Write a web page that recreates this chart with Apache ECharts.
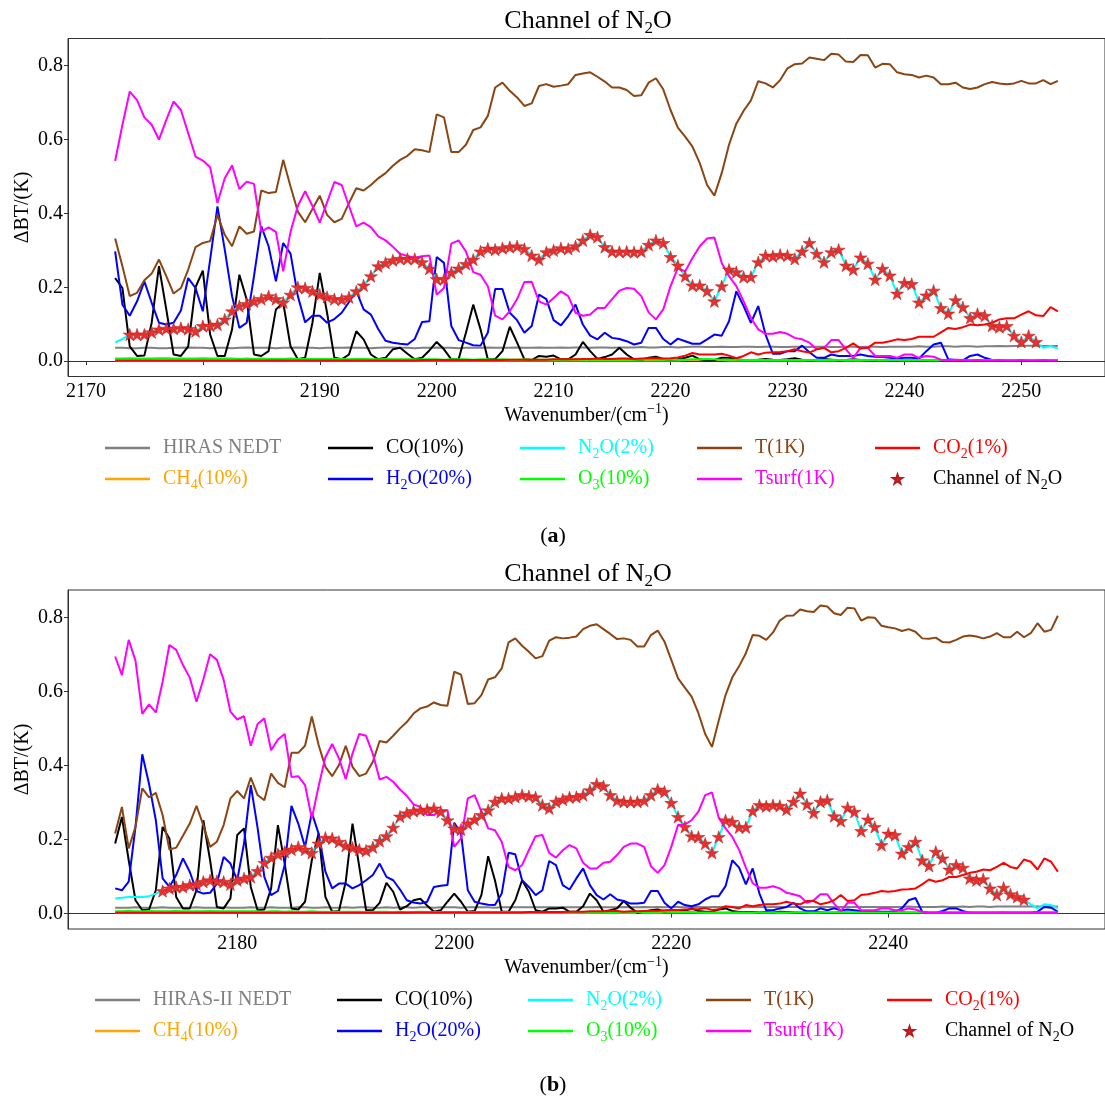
<!DOCTYPE html>
<html>
<head>
<meta charset="utf-8">
<title>Channel of N2O</title>
<script src="https://cdn.jsdelivr.net/npm/echarts@6/dist/echarts.min.js"></script>
<style>
  html, body { margin: 0; padding: 0; background: #fff; }
  #main { width: 1105px; height: 1102px; }
</style>
</head>
<body>
<div id="main"></div>
<script>
// ---- panel (a): HIRAS, 2172.5 .. 2253.125 cm-1, step 0.625 ----
const startA = 2172.5
const stepA = 0.625
const nedtA = [0.036,0.036,0.035,0.035,0.036,0.036,0.035,0.035,0.036,0.036,0.037,0.036,0.036,0.035,0.036,0.036,0.035,0.036,0.037,0.036,
  0.036,0.036,0.035,0.036,0.036,0.037,0.036,0.036,0.035,0.036,0.036,0.036,0.037,0.036,0.036,0.035,0.036,0.037,0.037,0.036,
  0.036,0.035,0.036,0.036,0.037,0.036,0.036,0.035,0.036,0.036,0.036,0.037,0.036,0.036,0.036,0.037,0.036,0.036,0.037,0.036,
  0.036,0.037,0.036,0.037,0.037,0.036,0.037,0.037,0.036,0.037,0.037,0.037,0.038,0.037,0.037,0.038,0.038,0.037,0.038,0.039,
  0.039,0.038,0.038,0.039,0.038,0.038,0.039,0.039,0.038,0.039,0.039,0.038,0.038,0.039,0.039,0.038,0.039,0.039,0.038,0.038,
  0.039,0.039,0.038,0.039,0.039,0.038,0.039,0.039,0.039,0.039,0.040,0.039,0.039,0.040,0.040,0.039,0.040,0.040,0.039,0.040,
  0.040,0.041,0.040,0.041,0.041,0.042,0.042,0.041,0.041,0.041]
const ch4A = [0.002,0.002,0.002,0.002,0.002,0.002,0.002,0.002,0.002,0.002,0.002,0.002,0.002,0.002,0.002,0.002,0.002,0.002,0.002,0.002,
  0.002,0.002,0.002,0.002,0.002,0.002,0.002,0.002,0.002,0.002,0.002,0.002,0.002,0.002,0.002,0.002,0.002,0.002,0.002,0.002,
  0.002,0.002,0.002,0.002,0.002,0.002,0.002,0.002,0.002,0.002,0.002,0.002,0.002,0.002,0.002,0.002,0.002,0.002,0.002,0.002,
  0.002,0.002,0.002,0.002,0.002,0.002,0.002,0.002,0.002,0.002,0.002,0.002,0.002,0.002,0.002,0.002,0.002,0.002,0.003,0.003,
  0.003,0.003,0.003,0.003,0.002,0.002,0.002,0.002,0.002,0.002,0.002,0.002,0.002,0.002,0.002,0.002,0.002,0.002,0.002,0.002,
  0.002,0.002,0.002,0.002,0.002,0.002,0.002,0.002,0.002,0.002,0.002,0.002,0.002,0.002,0.002,0.002,0.002,0.002,0.002,0.002,
  0.002,0.002,0.002,0.002,0.002,0.002,0.002,0.002,0.002,0.002]
const coA = [0.225,0.198,0.040,0.014,0.015,0.104,0.257,0.140,0.018,0.014,0.040,0.200,0.245,0.072,0.014,0.014,0.086,0.234,0.167,0.018,
  0.014,0.027,0.140,0.158,0.040,0.005,0.009,0.104,0.239,0.131,0.009,0.005,0.018,0.081,0.059,0.018,0.005,0.009,0.032,0.036,
  0.020,0.005,0.009,0.029,0.052,0.032,0.005,0.005,0.077,0.153,0.086,0.005,0.005,0.027,0.093,0.050,0.005,0.003,0.014,0.012,
  0.015,0.005,0.005,0.018,0.052,0.027,0.006,0.011,0.018,0.036,0.018,0.005,0.003,0.009,0.012,0.006,0.003,0.005,0.009,0.015,
  0.005,0.002,0.003,0.009,0.009,0.005,0.003,0.003,0.004,0.006,0.004,0.003,0.005,0.008,0.004,0.002,0.003,0.006,0.004,0.002,
  0.003,0.005,0.003,0.002,0.002,0.003,0.002,0.002,0.003,0.002,0.002,0.002,0.003,0.002,0.002,0.002,0.002,0.002,0.002,0.002,
  0.002,0.002,0.002,0.002,0.002,0.002,0.002,0.002,0.002,0.002]
const h2oA = [0.297,0.153,0.123,0.162,0.216,0.158,0.104,0.099,0.104,0.137,0.225,0.198,0.135,0.275,0.419,0.302,0.176,0.090,0.104,0.230,
  0.365,0.311,0.216,0.320,0.291,0.176,0.105,0.123,0.123,0.104,0.114,0.131,0.160,0.190,0.140,0.126,0.087,0.055,0.050,0.047,
  0.045,0.060,0.106,0.108,0.282,0.266,0.095,0.057,0.050,0.043,0.042,0.077,0.195,0.195,0.131,0.111,0.077,0.095,0.180,0.168,
  0.111,0.097,0.122,0.153,0.099,0.069,0.059,0.077,0.063,0.060,0.054,0.045,0.050,0.090,0.090,0.060,0.045,0.061,0.054,0.047,
  0.047,0.059,0.072,0.069,0.108,0.189,0.149,0.104,0.149,0.072,0.020,0.020,0.027,0.027,0.042,0.024,0.009,0.009,0.018,0.014,
  0.014,0.014,0.018,0.014,0.012,0.011,0.009,0.007,0.009,0.009,0.007,0.027,0.045,0.050,0.005,0.003,0.002,0.014,0.018,0.009,
  0.003,0.003,0.003,0.003,0.003,0.003,0.003,0.003,0.003,0.003]
const n2oA = [0.051,0.060,0.072,0.072,0.072,0.078,0.086,0.088,0.088,0.090,0.087,0.081,0.095,0.096,0.099,0.113,0.135,0.149,0.155,0.162,
  0.168,0.176,0.168,0.159,0.180,0.200,0.198,0.189,0.180,0.174,0.168,0.167,0.173,0.189,0.205,0.230,0.257,0.266,0.273,0.277,
  0.277,0.277,0.268,0.250,0.222,0.222,0.240,0.251,0.263,0.275,0.297,0.305,0.302,0.306,0.309,0.311,0.304,0.286,0.275,0.295,
  0.300,0.306,0.304,0.311,0.327,0.342,0.336,0.309,0.297,0.296,0.297,0.295,0.297,0.315,0.327,0.320,0.282,0.259,0.230,0.205,
  0.205,0.190,0.162,0.203,0.248,0.241,0.228,0.228,0.268,0.286,0.284,0.288,0.286,0.277,0.297,0.320,0.291,0.268,0.295,0.302,
  0.259,0.248,0.281,0.264,0.221,0.250,0.232,0.183,0.212,0.209,0.159,0.178,0.191,0.144,0.129,0.165,0.146,0.117,0.128,0.123,
  0.096,0.092,0.095,0.069,0.052,0.069,0.052,0.036,0.041,0.034]
const o3A = [0.007,0.007,0.008,0.007,0.007,0.007,0.008,0.008,0.007,0.007,0.007,0.007,0.008,0.007,0.007,0.007,0.007,0.006,0.007,0.006,
  0.007,0.006,0.006,0.006,0.007,0.006,0.006,0.006,0.006,0.006,0.006,0.006,0.005,0.006,0.006,0.005,0.005,0.006,0.005,0.005,
  0.005,0.005,0.005,0.005,0.005,0.004,0.005,0.005,0.005,0.004,0.005,0.005,0.004,0.005,0.004,0.004,0.005,0.004,0.004,0.004,
  0.004,0.004,0.004,0.005,0.004,0.004,0.004,0.004,0.004,0.004,0.004,0.004,0.004,0.005,0.004,0.004,0.004,0.004,0.004,0.005,
  0.005,0.006,0.005,0.004,0.004,0.004,0.003,0.003,0.004,0.003,0.003,0.003,0.003,0.003,0.003,0.003,0.003,0.003,0.004,0.003,
  0.003,0.003,0.003,0.003,0.003,0.003,0.003,0.003,0.003,0.003,0.003,0.003,0.003,0.003,0.003,0.003,0.003,0.003,0.003,0.003,
  0.003,0.003,0.003,0.003,0.003,0.003,0.003,0.003,0.003,0.003]
const tA = [0.332,0.257,0.176,0.185,0.219,0.237,0.275,0.230,0.183,0.198,0.248,0.309,0.320,0.325,0.396,0.342,0.311,0.365,0.345,0.351,
  0.462,0.455,0.458,0.545,0.473,0.405,0.376,0.412,0.448,0.396,0.376,0.385,0.428,0.468,0.462,0.477,0.495,0.509,0.529,0.545,
  0.556,0.574,0.571,0.566,0.668,0.660,0.566,0.566,0.586,0.626,0.633,0.664,0.741,0.754,0.732,0.714,0.691,0.698,0.745,0.750,
  0.743,0.746,0.750,0.775,0.779,0.782,0.770,0.757,0.741,0.741,0.734,0.718,0.720,0.754,0.766,0.736,0.680,0.632,0.608,0.581,
  0.536,0.477,0.448,0.509,0.586,0.643,0.678,0.706,0.758,0.752,0.741,0.761,0.793,0.804,0.806,0.822,0.819,0.815,0.832,0.830,
  0.811,0.810,0.829,0.828,0.795,0.805,0.804,0.782,0.777,0.775,0.768,0.773,0.768,0.750,0.750,0.754,0.741,0.737,0.741,0.750,
  0.756,0.752,0.750,0.752,0.759,0.752,0.752,0.761,0.750,0.759]
const tsurfA = [0.542,0.640,0.730,0.707,0.660,0.640,0.600,0.653,0.703,0.680,0.617,0.554,0.543,0.525,0.428,0.495,0.530,0.466,0.486,0.480,
  0.351,0.362,0.350,0.243,0.350,0.420,0.460,0.420,0.375,0.430,0.485,0.477,0.420,0.365,0.375,0.363,0.338,0.327,0.310,0.290,
  0.285,0.280,0.284,0.286,0.180,0.198,0.318,0.327,0.297,0.241,0.234,0.203,0.123,0.113,0.135,0.168,0.214,0.215,0.162,0.153,
  0.171,0.189,0.176,0.131,0.123,0.126,0.144,0.144,0.168,0.191,0.198,0.196,0.176,0.132,0.113,0.140,0.203,0.252,0.243,0.279,
  0.311,0.332,0.335,0.266,0.230,0.203,0.162,0.117,0.086,0.074,0.074,0.079,0.074,0.063,0.059,0.050,0.033,0.036,0.057,0.057,
  0.032,0.009,0.036,0.036,0.014,0.014,0.014,0.009,0.018,0.018,0.009,0.014,0.012,0.004,0.003,0.004,0.003,0.002,0.003,0.002,
  0.002,0.003,0.002,0.002,0.003,0.002,0.002,0.003,0.002,0.002]
const co2A = [0.002,0.002,0.002,0.002,0.002,0.002,0.002,0.002,0.002,0.002,0.002,0.002,0.002,0.002,0.002,0.002,0.002,0.002,0.002,0.002,
  0.002,0.002,0.002,0.002,0.002,0.002,0.002,0.002,0.002,0.002,0.002,0.002,0.002,0.002,0.002,0.002,0.002,0.002,0.002,0.002,
  0.002,0.002,0.003,0.003,0.003,0.003,0.003,0.003,0.003,0.003,0.003,0.003,0.003,0.003,0.004,0.004,0.004,0.004,0.004,0.004,
  0.005,0.005,0.005,0.005,0.006,0.006,0.007,0.006,0.006,0.007,0.007,0.006,0.007,0.008,0.008,0.007,0.008,0.010,0.015,0.022,
  0.018,0.018,0.018,0.020,0.015,0.008,0.014,0.024,0.018,0.023,0.024,0.025,0.027,0.032,0.027,0.023,0.032,0.036,0.024,0.027,
  0.036,0.048,0.034,0.036,0.050,0.050,0.054,0.059,0.057,0.060,0.066,0.066,0.066,0.078,0.090,0.087,0.092,0.099,0.097,0.099,
  0.104,0.113,0.116,0.116,0.126,0.135,0.124,0.122,0.146,0.135]
const chanFromA = 2   // first marked N2O channel (index)
const chanToA = 126   // last marked N2O channel (index)

// ---- panel (b): HIRAS-II, 2168.75 .. 2255.625 cm-1, step 0.625 ----
const startB = 2168.75
const stepB = 0.625
const nedtB = [0.016,0.016,0.016,0.017,0.016,0.016,0.016,0.017,0.016,0.016,0.016,0.016,0.017,0.016,0.016,0.016,0.017,0.016,0.016,0.016,
  0.017,0.016,0.016,0.017,0.016,0.016,0.016,0.017,0.017,0.016,0.016,0.017,0.016,0.016,0.017,0.016,0.017,0.017,0.016,0.016,
  0.017,0.016,0.017,0.017,0.016,0.017,0.017,0.016,0.017,0.017,0.017,0.016,0.017,0.017,0.017,0.017,0.016,0.017,0.017,0.017,
  0.017,0.017,0.017,0.017,0.017,0.017,0.017,0.017,0.017,0.017,0.017,0.018,0.017,0.017,0.017,0.018,0.017,0.017,0.018,0.017,
  0.018,0.017,0.018,0.018,0.017,0.018,0.018,0.017,0.018,0.018,0.018,0.017,0.018,0.018,0.018,0.018,0.017,0.018,0.018,0.018,
  0.018,0.018,0.018,0.018,0.018,0.018,0.018,0.018,0.018,0.018,0.018,0.018,0.018,0.018,0.018,0.018,0.018,0.019,0.018,0.018,
  0.018,0.018,0.019,0.018,0.018,0.019,0.018,0.019,0.019,0.018,0.019,0.019,0.019,0.019,0.019,0.019,0.019,0.019,0.019,0.019]
const ch4B = [0.002,0.002,0.002,0.002,0.002,0.002,0.002,0.002,0.002,0.002,0.002,0.002,0.002,0.002,0.002,0.002,0.002,0.002,0.002,0.002,
  0.002,0.002,0.002,0.002,0.002,0.002,0.002,0.002,0.002,0.002,0.002,0.002,0.002,0.002,0.002,0.002,0.002,0.002,0.002,0.002,
  0.002,0.002,0.002,0.002,0.002,0.002,0.002,0.002,0.002,0.002,0.002,0.002,0.002,0.002,0.002,0.002,0.002,0.002,0.002,0.002,
  0.002,0.002,0.002,0.002,0.002,0.002,0.002,0.002,0.002,0.002,0.002,0.002,0.002,0.002,0.002,0.002,0.002,0.002,0.002,0.002,
  0.002,0.003,0.003,0.003,0.003,0.003,0.003,0.002,0.002,0.002,0.002,0.002,0.002,0.002,0.002,0.002,0.002,0.002,0.002,0.002,
  0.002,0.002,0.002,0.002,0.002,0.002,0.002,0.002,0.002,0.002,0.002,0.002,0.002,0.002,0.002,0.002,0.002,0.002,0.002,0.002,
  0.002,0.002,0.002,0.002,0.002,0.002,0.002,0.002,0.002,0.002,0.002,0.002,0.002,0.002,0.002,0.002,0.002,0.002,0.002,0.002]
const coB = [0.189,0.261,0.144,0.036,0.009,0.011,0.063,0.234,0.203,0.045,0.014,0.014,0.063,0.252,0.144,0.018,0.014,0.041,0.212,0.230,
  0.072,0.009,0.011,0.068,0.239,0.135,0.014,0.011,0.032,0.144,0.216,0.045,0.005,0.007,0.086,0.243,0.126,0.009,0.009,0.029,
  0.083,0.059,0.011,0.020,0.036,0.040,0.022,0.005,0.009,0.032,0.054,0.032,0.005,0.007,0.050,0.155,0.090,0.005,0.005,0.036,
  0.090,0.059,0.009,0.005,0.014,0.014,0.016,0.005,0.005,0.020,0.054,0.036,0.005,0.009,0.014,0.034,0.016,0.002,0.005,0.009,
  0.011,0.005,0.007,0.009,0.007,0.014,0.007,0.005,0.005,0.011,0.014,0.007,0.004,0.004,0.004,0.003,0.004,0.003,0.005,0.004,
  0.003,0.002,0.003,0.004,0.003,0.002,0.002,0.003,0.002,0.002,0.003,0.002,0.002,0.002,0.002,0.002,0.003,0.002,0.002,0.002,
  0.002,0.002,0.002,0.002,0.002,0.002,0.002,0.002,0.002,0.002,0.002,0.002,0.002,0.002,0.002,0.002,0.002,0.002,0.002,0.002]
const h2oB = [0.068,0.063,0.086,0.234,0.430,0.350,0.252,0.095,0.072,0.104,0.149,0.113,0.061,0.054,0.056,0.081,0.153,0.135,0.090,0.189,
  0.347,0.232,0.099,0.050,0.061,0.131,0.291,0.243,0.180,0.272,0.216,0.113,0.068,0.081,0.081,0.068,0.077,0.090,0.104,0.135,
  0.099,0.090,0.065,0.036,0.030,0.027,0.032,0.072,0.075,0.077,0.245,0.216,0.063,0.032,0.027,0.024,0.023,0.054,0.164,0.160,
  0.090,0.072,0.050,0.063,0.142,0.131,0.077,0.065,0.095,0.122,0.077,0.050,0.038,0.052,0.038,0.034,0.027,0.027,0.029,0.061,
  0.061,0.029,0.014,0.032,0.023,0.020,0.025,0.038,0.047,0.047,0.074,0.144,0.124,0.079,0.122,0.054,0.009,0.009,0.014,0.018,
  0.029,0.014,0.006,0.006,0.014,0.009,0.014,0.009,0.011,0.009,0.007,0.007,0.006,0.005,0.005,0.006,0.014,0.036,0.042,0.005,
  0.002,0.002,0.007,0.014,0.014,0.007,0.002,0.002,0.002,0.002,0.002,0.002,0.002,0.002,0.002,0.002,0.005,0.018,0.016,0.005]
const n2oB = [0.041,0.043,0.045,0.045,0.045,0.047,0.054,0.061,0.068,0.072,0.072,0.077,0.079,0.086,0.090,0.088,0.086,0.079,0.090,0.095,
  0.099,0.115,0.137,0.151,0.160,0.167,0.173,0.180,0.173,0.164,0.189,0.205,0.203,0.194,0.183,0.178,0.173,0.170,0.179,0.196,
  0.209,0.232,0.262,0.271,0.277,0.279,0.281,0.284,0.275,0.252,0.230,0.227,0.243,0.254,0.266,0.279,0.302,0.311,0.311,0.315,
  0.320,0.317,0.314,0.293,0.284,0.302,0.308,0.314,0.315,0.320,0.333,0.350,0.344,0.320,0.305,0.302,0.302,0.302,0.305,0.320,
  0.335,0.329,0.299,0.261,0.234,0.209,0.207,0.189,0.164,0.207,0.252,0.248,0.233,0.233,0.277,0.293,0.290,0.293,0.291,0.281,
  0.302,0.324,0.295,0.272,0.302,0.306,0.263,0.250,0.286,0.275,0.223,0.254,0.234,0.185,0.216,0.212,0.162,0.180,0.194,0.144,
  0.129,0.167,0.149,0.119,0.131,0.124,0.095,0.090,0.093,0.068,0.051,0.070,0.052,0.045,0.038,0.025,0.014,0.025,0.023,0.014]
const o3B = [0.006,0.006,0.007,0.006,0.006,0.007,0.006,0.006,0.006,0.007,0.006,0.006,0.006,0.006,0.007,0.006,0.006,0.006,0.006,0.006,
  0.006,0.006,0.005,0.006,0.006,0.005,0.006,0.005,0.005,0.006,0.005,0.005,0.005,0.005,0.005,0.005,0.005,0.004,0.005,0.005,
  0.005,0.004,0.005,0.004,0.004,0.005,0.004,0.004,0.004,0.004,0.004,0.004,0.004,0.004,0.004,0.004,0.004,0.004,0.004,0.004,
  0.004,0.004,0.004,0.004,0.004,0.004,0.004,0.004,0.004,0.004,0.004,0.004,0.004,0.004,0.004,0.004,0.004,0.004,0.004,0.004,
  0.005,0.005,0.004,0.004,0.004,0.004,0.003,0.003,0.003,0.003,0.003,0.003,0.003,0.003,0.003,0.003,0.003,0.003,0.003,0.003,
  0.003,0.003,0.003,0.003,0.003,0.003,0.003,0.003,0.003,0.003,0.003,0.003,0.003,0.003,0.003,0.003,0.003,0.003,0.003,0.003,
  0.003,0.003,0.003,0.003,0.003,0.003,0.003,0.003,0.003,0.003,0.003,0.003,0.003,0.003,0.003,0.003,0.003,0.003,0.003,0.003]
const tB = [0.216,0.288,0.176,0.234,0.338,0.314,0.326,0.266,0.173,0.178,0.210,0.243,0.291,0.239,0.180,0.194,0.239,0.311,0.331,0.311,
  0.367,0.320,0.306,0.378,0.353,0.341,0.434,0.434,0.453,0.532,0.455,0.396,0.371,0.401,0.453,0.396,0.371,0.378,0.410,0.466,
  0.462,0.480,0.500,0.517,0.540,0.554,0.559,0.570,0.563,0.561,0.653,0.645,0.566,0.568,0.590,0.632,0.638,0.662,0.732,0.743,
  0.723,0.707,0.689,0.695,0.737,0.746,0.743,0.745,0.748,0.768,0.777,0.781,0.768,0.755,0.741,0.743,0.739,0.721,0.721,0.752,
  0.764,0.734,0.685,0.635,0.610,0.586,0.541,0.485,0.450,0.521,0.590,0.638,0.668,0.703,0.752,0.750,0.739,0.759,0.791,0.804,
  0.805,0.821,0.816,0.814,0.832,0.829,0.811,0.806,0.826,0.824,0.791,0.800,0.799,0.777,0.773,0.770,0.763,0.768,0.761,0.743,
  0.742,0.745,0.733,0.732,0.739,0.748,0.751,0.748,0.743,0.748,0.757,0.746,0.746,0.761,0.746,0.757,0.784,0.761,0.766,0.804]
const tsurfB = [0.694,0.644,0.739,0.683,0.539,0.565,0.543,0.626,0.725,0.712,0.671,0.637,0.572,0.632,0.700,0.685,0.631,0.545,0.524,0.533,
  0.453,0.512,0.527,0.441,0.470,0.485,0.369,0.371,0.347,0.257,0.344,0.422,0.458,0.419,0.363,0.432,0.485,0.480,0.431,0.362,
  0.369,0.356,0.335,0.318,0.295,0.288,0.266,0.266,0.279,0.279,0.180,0.203,0.311,0.320,0.275,0.230,0.225,0.194,0.126,0.117,
  0.131,0.171,0.209,0.212,0.164,0.151,0.171,0.185,0.176,0.137,0.122,0.122,0.137,0.140,0.158,0.180,0.189,0.189,0.180,0.128,
  0.110,0.131,0.180,0.239,0.241,0.252,0.275,0.320,0.327,0.259,0.230,0.207,0.172,0.124,0.082,0.070,0.070,0.074,0.068,0.056,
  0.052,0.047,0.029,0.036,0.052,0.052,0.027,0.007,0.029,0.029,0.009,0.009,0.009,0.014,0.014,0.009,0.009,0.014,0.011,0.005,
  0.002,0.002,0.003,0.002,0.002,0.002,0.003,0.002,0.002,0.002,0.002,0.003,0.002,0.002,0.002,0.002,0.002,0.002,0.002,0.002]
const co2B = [0.002,0.002,0.002,0.002,0.002,0.002,0.002,0.002,0.002,0.002,0.002,0.002,0.002,0.002,0.002,0.002,0.002,0.002,0.002,0.002,
  0.002,0.002,0.002,0.002,0.002,0.002,0.002,0.002,0.002,0.002,0.002,0.002,0.002,0.002,0.002,0.002,0.002,0.002,0.002,0.002,
  0.002,0.002,0.003,0.002,0.003,0.003,0.003,0.003,0.003,0.003,0.003,0.003,0.003,0.003,0.003,0.003,0.003,0.003,0.003,0.003,
  0.003,0.004,0.004,0.004,0.004,0.004,0.004,0.005,0.005,0.005,0.006,0.006,0.006,0.007,0.007,0.005,0.006,0.006,0.007,0.008,
  0.008,0.009,0.010,0.010,0.011,0.012,0.012,0.015,0.010,0.012,0.020,0.018,0.014,0.023,0.020,0.023,0.025,0.025,0.027,0.032,
  0.027,0.025,0.034,0.034,0.025,0.029,0.036,0.050,0.034,0.036,0.050,0.052,0.056,0.061,0.059,0.061,0.065,0.066,0.068,0.079,
  0.092,0.086,0.090,0.099,0.099,0.104,0.110,0.113,0.119,0.117,0.126,0.137,0.126,0.122,0.146,0.140,0.119,0.149,0.140,0.113]
const chanFromB = 7
const chanToB = 134

const xTicksA = [2170, 2180, 2190, 2200, 2210, 2220, 2230, 2240, 2250]
const xTicksB = [2180, 2200, 2220, 2240]
const yTicks = [0, 0.2, 0.4, 0.6, 0.8]

const FONT = 'Liberation Serif'
const STAR = 'path://M50,0 L61.2,34.5 L97.6,34.5 L68.2,55.9 L79.4,90.5 L50,69.1 L20.6,90.5 L31.8,55.9 L2.4,34.5 L38.8,34.5 Z'
const HANDLE = 'path://M0,0 L45,0 L45,2.4 L0,2.4 Z'

// 颜色 / 图例文字
const colors = {
  'HIRAS NEDT': '#808080', 'HIRAS-II NEDT': '#808080', 'CH4(10%)': '#ffa500', 'CO(10%)': '#000000',
  'H2O(20%)': '#0000ff', 'N2O(2%)': '#00ffff', 'O3(10%)': '#00ff00', 'T(1K)': '#8b4513',
  'Tsurf(1K)': '#ff00ff', 'CO2(1%)': '#ff0000', 'Channel of N2O': '#000000'
}
const richNames = {
  'CH4(10%)': 'CH{ch4|4}(10%)', 'H2O(20%)': 'H{h2o|2}O(20%)', 'N2O(2%)': 'N{n2o|2}O(2%)',
  'O3(10%)': 'O{o3|3}(10%)', 'CO2(1%)': 'CO{co2|2}(1%)', 'Channel of N2O': 'Channel of N{chan|2}O'
}
function subStyle(color) {
  return { fontFamily: FONT, fontSize: 14, lineHeight: 14, verticalAlign: 'bottom', color: color }
}
const legendRich = {
  ch4: subStyle('#ffa500'), h2o: subStyle('#0000ff'), n2o: subStyle('#00ffff'),
  o3: subStyle('#00ff00'), co2: subStyle('#ff0000'), chan: subStyle('#000000')
}

function waves(start, step, n) {
  let w = []
  for (let i = 0; i < n; i++) w.push(start + i * step)
  return w
}
const waveA = waves(startA, stepA, tA.length)
const waveB = waves(startB, stepB, tB.length)

function line(name, xs, ys, gi) {
  return {
    type: 'line', name: name, xAxisIndex: gi, yAxisIndex: gi,
    data: xs.map((x, i) => [x, ys[i]]),
    symbol: 'none', showSymbol: false, animation: false,
    lineStyle: { color: colors[name], width: 2 },
    itemStyle: { color: colors[name] },
    emphasis: { disabled: true }, z: 2
  }
}
function stars(xs, ys, from, to, gi) {
  let d = []
  for (let i = from; i <= to; i++) d.push([xs[i], ys[i]])
  return {
    type: 'scatter', name: 'Channel of N2O', xAxisIndex: gi, yAxisIndex: gi, data: d,
    symbol: STAR, symbolSize: 13, symbolKeepAspect: true, animation: false,
    itemStyle: { color: '#e8312f', borderColor: '#b41c1c', borderWidth: 0.5, opacity: 1 },
    emphasis: { disabled: true }, z: 3
  }
}
function panelSeries(nedtName, xs, nedt, ch4, co, h2o, n2o, o3, t, tsurf, co2, from, to, gi) {
  return [
    line(nedtName, xs, nedt, gi), line('CH4(10%)', xs, ch4, gi), line('CO(10%)', xs, co, gi),
    line('H2O(20%)', xs, h2o, gi), line('N2O(2%)', xs, n2o, gi), line('O3(10%)', xs, o3, gi),
    line('T(1K)', xs, t, gi), line('Tsurf(1K)', xs, tsurf, gi), line('CO2(1%)', xs, co2, gi),
    stars(xs, n2o, from, to, gi)
  ]
}

function legendCol(x, top, names) {
  return {
    orient: 'vertical', left: x, top: top, itemWidth: 45, itemHeight: 9, itemGap: 5,
    selectedMode: false, padding: 0,
    data: names.map(n => ({
      name: n, icon: n === 'Channel of N2O' ? STAR : HANDLE,
      itemStyle: n === 'Channel of N2O' ? { color: '#f02020' } : { color: colors[n] },
      textStyle: { color: colors[n] }
    })),
    formatter: n => richNames[n] || n,
    textStyle: { fontFamily: FONT, fontSize: 20, lineHeight: 26, padding: [0, 0, 0, 8], rich: legendRich }
  }
}

function xAxis(gi, min, max, ticks) {
  return {
    type: 'value', gridIndex: gi, min: min, max: max,
    name: 'Wavenumber/(cm{p|\u22121})', nameLocation: 'middle', nameGap: 26,
    nameTextStyle: { fontFamily: FONT, fontSize: 20, color: '#000', lineHeight: 26,
      rich: { p: { fontFamily: FONT, fontSize: 14, lineHeight: 14, verticalAlign: 'top', color: '#000' } } },
    axisLine: { show: true, lineStyle: { color: '#333', width: 1 } },
    axisTick: { show: true, length: 4, customValues: ticks, lineStyle: { color: '#333' } },
    axisLabel: { customValues: ticks, margin: 5, fontFamily: FONT, fontSize: 20, color: '#000',
      formatter: v => String(v) },
    splitLine: { show: false }
  }
}
function yAxis(gi, min, max) {
  return {
    type: 'value', gridIndex: gi, min: min, max: max,
    name: '\u0394BT/(K)', nameLocation: 'middle', nameGap: 35, nameRotate: 90, nameMoveOverlap: false,
    nameTextStyle: { fontFamily: FONT, fontSize: 20, color: '#000' },
    axisLine: { show: true, lineStyle: { color: '#333', width: 1 } },
    axisTick: { show: true, length: 4, customValues: yTicks, lineStyle: { color: '#333' } },
    axisLabel: { customValues: yTicks, margin: 5, fontFamily: FONT, fontSize: 20, color: '#000',
      formatter: v => v.toFixed(1) },
    splitLine: { show: false }
  }
}

function titleText(y, txt) {
  return {
    type: 'text', x: 588, y: y,
    style: { text: txt, align: 'center', verticalAlign: 'middle', fontFamily: FONT, fontSize: 26,
      fill: '#000', lineHeight: 32,
      rich: { s: { fontFamily: FONT, fontSize: 17, lineHeight: 17, verticalAlign: 'bottom', fill: '#000' } } }
  }
}
function panelLabel(y, letter) {
  return {
    type: 'text', x: 553, y: y,
    style: { text: '({b|' + letter + '})', align: 'center', verticalAlign: 'middle',
      fontFamily: FONT, fontSize: 22, fill: '#000',
      rich: { b: { fontFamily: FONT, fontSize: 22, fontWeight: 'bold', fill: '#000' } } }
  }
}

const chart = echarts.init(document.getElementById('main'), null, { renderer: 'canvas', width: 1105, height: 1102 })
chart.setOption({
  backgroundColor: '#fff',
  animation: false,
  grid: [
    { left: 68, top: 38.5, width: 1040, height: 338, show: true, borderColor: '#333', borderWidth: 1, containLabel: false },
    { left: 68, top: 590, width: 1040, height: 339, show: true, borderColor: '#333', borderWidth: 1, containLabel: false }
  ],
  xAxis: [xAxis(0, 2168.469, 2257.156, xTicksA), xAxis(1, 2164.406, 2259.969, xTicksB)],
  yAxis: [yAxis(0, -0.0416, 0.8736), yAxis(1, -0.0416, 0.8736)],
  legend: [
    legendCol(105, 435, ['HIRAS NEDT', 'CH4(10%)']),
    legendCol(328, 435, ['CO(10%)', 'H2O(20%)']),
    legendCol(520, 435, ['N2O(2%)', 'O3(10%)']),
    legendCol(697, 435, ['T(1K)', 'Tsurf(1K)']),
    legendCol(875, 435, ['CO2(1%)', 'Channel of N2O']),
    legendCol(95, 987, ['HIRAS-II NEDT', 'CH4(10%)']),
    legendCol(337, 987, ['CO(10%)', 'H2O(20%)']),
    legendCol(528, 987, ['N2O(2%)', 'O3(10%)']),
    legendCol(706, 987, ['T(1K)', 'Tsurf(1K)']),
    legendCol(887, 987, ['CO2(1%)', 'Channel of N2O'])
  ],
  graphic: [
    titleText(21, 'Channel of N{s|2}O'),
    titleText(574, 'Channel of N{s|2}O'),
    panelLabel(536, 'a'),
    panelLabel(1085, 'b')
  ],
  series: panelSeries('HIRAS NEDT', waveA, nedtA, ch4A, coA, h2oA, n2oA, o3A, tA, tsurfA, co2A, chanFromA, chanToA, 0)
    .concat(panelSeries('HIRAS-II NEDT', waveB, nedtB, ch4B, coB, h2oB, n2oB, o3B, tB, tsurfB, co2B, chanFromB, chanToB, 1))
})
</script>
</body>
</html>
